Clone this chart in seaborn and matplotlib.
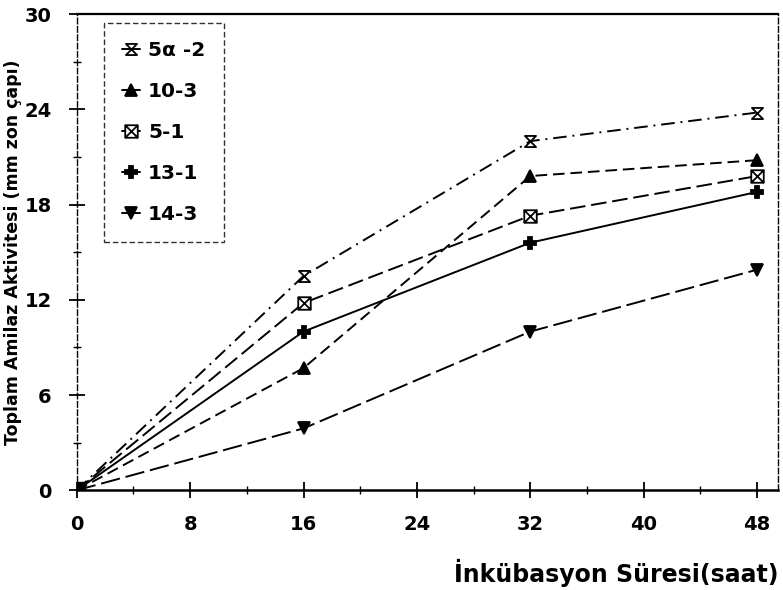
import numpy as np
import pandas as pd
import matplotlib
matplotlib.use("Agg")
import matplotlib.pyplot as plt
from matplotlib.path import Path
from matplotlib.ticker import MultipleLocator
import seaborn as sns

sns.set_theme(style="ticks")
plt.rcParams['font.family'] = ['DejaVu Sans']
plt.rcParams['text.color'] = 'black'
plt.rcParams['axes.labelcolor'] = 'black'
plt.rcParams['xtick.color'] = 'black'
plt.rcParams['ytick.color'] = 'black'

hours = [0, 16, 32, 48]
s_5a2 = [0, 13.5, 22.0, 23.8]
s_103 = [0, 7.7, 19.8, 20.8]
s_51 = [0, 11.8, 17.3, 19.8]
s_131 = [0, 10.0, 15.6, 18.8]
s_143 = [0, 3.9, 10.0, 13.9]
labels = ["5α -2", "10-3", "5-1", "13-1", "14-3"]
yticks = [0, 6, 12, 18, 24, 30]
xticks = [0, 8, 16, 24, 32, 40, 48]

hourglass = Path([(-1, 1), (1, 1), (-1, -1), (1, -1), (-1, 1)],
                 [Path.MOVETO, Path.LINETO, Path.LINETO, Path.LINETO, Path.CLOSEPOLY])
boxx = Path([(-1, -1), (1, -1), (1, 1), (-1, 1), (-1, -1), (1, 1), (1, -1), (-1, 1)],
            [Path.MOVETO, Path.LINETO, Path.LINETO, Path.LINETO, Path.CLOSEPOLY,
             Path.LINETO, Path.MOVETO, Path.LINETO])

fig = plt.figure(figsize=(7.83, 5.9), dpi=100)
ax = fig.add_axes([0.098, 0.169, 0.896, 0.807])

series = [s_5a2, s_103, s_51, s_131, s_143]
markers = [hourglass, "^", boxx, "P", "v"]
fills = ["white", "black", "white", "black", "black"]
styles = [(0, (7, 3, 1, 3)), (0, (6, 3)), (0, (8, 3)), "-", (0, (10, 3))]
sizes = [8, 8, 9, 9, 9]

for vals, lab, mk, fc, ls, ms in zip(series, labels, markers, fills, styles, sizes):
    df = pd.DataFrame({"x": hours, "y": vals})
    sns.lineplot(data=df, x="x", y="y", ax=ax, color="black", linewidth=1.4,
                 linestyle=ls, marker=mk, markersize=ms, markerfacecolor=fc,
                 markeredgecolor="black", markeredgewidth=1.3, label=lab)

ax.plot([0], [0], marker="s", color="black", markersize=11)

ax.set_xlim(0, 49.5)
ax.set_ylim(0, 30)
ax.set_xticks(xticks)
ax.set_yticks(yticks)
ax.xaxis.set_minor_locator(MultipleLocator(4))
ax.yaxis.set_minor_locator(MultipleLocator(3))
ax.tick_params(which="major", direction="inout", length=12, width=1.3, labelsize=14, pad=12)
ax.tick_params(which="minor", direction="inout", length=6, width=1.0)
for t in ax.get_xticklabels() + ax.get_yticklabels():
    t.set_fontweight("bold")

for side in ["left", "right"]:
    ax.spines[side].set_linestyle((0, (4, 2)))
    ax.spines[side].set_linewidth(1.0)
ax.spines["top"].set_linewidth(1.6)
ax.spines["bottom"].set_linewidth(1.8)
for s in ax.spines.values():
    s.set_color("black")

ax.set_xlabel("İnkübasyon Süresi(saat)", fontsize=17, fontweight="bold", loc="right", labelpad=18)
ax.set_ylabel("Toplam Amilaz Aktivitesi (mm zon çapı)", fontsize=12.5, fontweight="bold", labelpad=2)

leg = ax.legend(loc="upper left", bbox_to_anchor=(0.03, 0.995), frameon=True, fancybox=False,
                handlelength=0.9, handletextpad=0.4, labelspacing=1.1, borderpad=0.9,
                borderaxespad=0.3, prop={"weight": "bold", "size": 14.5})
leg.get_frame().set_edgecolor("black")
leg.get_frame().set_linestyle((0, (4, 2)))
leg.get_frame().set_linewidth(1.0)
for h in leg.legend_handles:
    h.set_linestyle("-")

fig.savefig("out.png", dpi=100, facecolor="white")
